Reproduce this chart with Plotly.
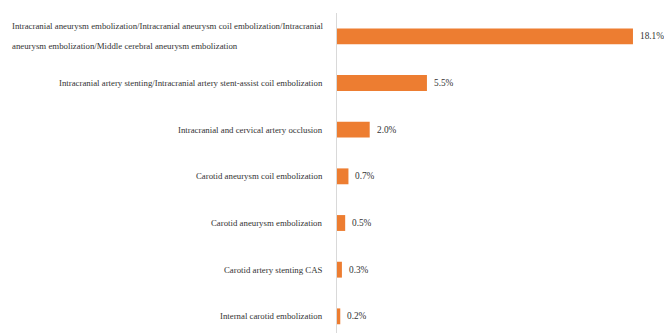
import plotly.graph_objects as go

# Procedure categories, top to bottom
categories = [
    "Intracranial aneurysm embolization/Intracranial aneurysm coil embolization/Intracranial aneurysm embolization/Middle cerebral aneurysm embolization",
    "Intracranial artery stenting/Intracranial artery stent-assist coil embolization",
    "Intracranial and cervical artery occlusion",
    "Carotid aneurysm coil embolization",
    "Carotid aneurysm embolization",
    "Carotid artery stenting CAS",
    "Internal carotid embolization",
]
# Share of procedures (%)
values = [18.1, 5.5, 2.0, 0.7, 0.5, 0.3, 0.2]

# How the long first category wraps onto two lines
first_label_lines = [
    "Intracranial aneurysm embolization/Intracranial aneurysm coil embolization/Intracranial",
    "aneurysm embolization/Middle cerebral aneurysm embolization",
]

BAR_COLOR = "#ED7D31"
TEXT_COLOR = "#333333"
FONT = "Liberation Serif"
FS = 8.8

fig = go.Figure(
    go.Bar(
        x=values,
        y=categories,
        orientation="h",
        marker=dict(color=BAR_COLOR, line=dict(width=0)),
        width=0.34,
        hoverinfo="skip",
    )
)

annotations = []
# value labels to the right of each bar
for cat, v in zip(categories, values):
    annotations.append(dict(
        x=v, y=cat, xref="x", yref="y", text=f"{v:.1f}%",
        showarrow=False, xanchor="left", yanchor="middle", xshift=5,
        font=dict(family=FONT, size=9.3, color=TEXT_COLOR),
    ))

# category labels left of the axis
for i, cat in enumerate(categories):
    if i == 0:
        for j, line in enumerate(first_label_lines):
            annotations.append(dict(
                x=0, y=cat, xref="x", yref="y", text=line,
                showarrow=False, xanchor="left", yanchor="middle",
                xshift=-327, yshift=10 - 20 * j,
                font=dict(family=FONT, size=FS, color=TEXT_COLOR),
            ))
    else:
        annotations.append(dict(
            x=0, y=cat, xref="x", yref="y", text=cat,
            showarrow=False, xanchor="right", yanchor="middle", xshift=-12,
            font=dict(family=FONT, size=FS, color=TEXT_COLOR),
        ))

fig.update_layout(
    width=664, height=333,
    margin=dict(l=337, r=24, t=13, b=0),
    paper_bgcolor="white", plot_bgcolor="white",
    showlegend=False,
    annotations=annotations,
    xaxis=dict(range=[0, 18.53], visible=False, fixedrange=True),
    yaxis=dict(
        type="category",
        categoryorder="array", categoryarray=categories,
        range=[6.357, -0.5],
        showticklabels=False, ticks="",
        showline=True, linecolor="#d9d9d9", linewidth=1,
        showgrid=False, zeroline=False, fixedrange=True,
    ),
)

fig.write_html("out.html")
